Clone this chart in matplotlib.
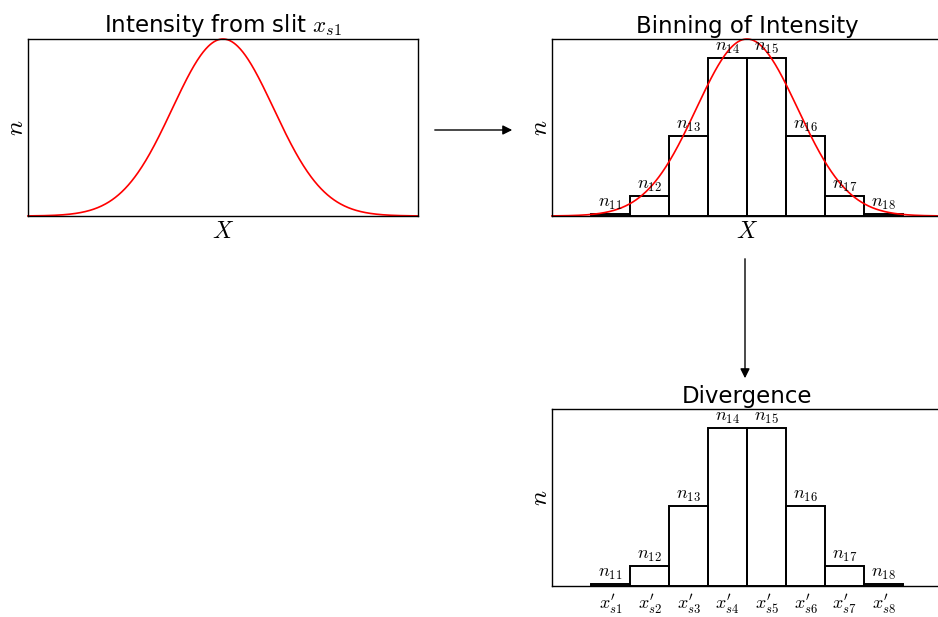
import numpy as np
import matplotlib
matplotlib.use("Agg")
import matplotlib.pyplot as plt

plt.rcParams['mathtext.fontset'] = 'cm'

# intensity profile from the slit (gaussian)
mu = 0.0
sigma = 1.3
x_range = (-5.0, 5.0)

# binned intensity
bin_edges = [-4, -3, -2, -1, 0, 1, 2, 3, 4]
bin_counts = [0.013, 0.113, 0.452, 0.893, 0.893, 0.452, 0.113, 0.013]
bin_labels = [r'$n_{11}$', r'$n_{12}$', r'$n_{13}$', r'$n_{14}$',
              r'$n_{15}$', r'$n_{16}$', r'$n_{17}$', r'$n_{18}$']
div_labels = [r"$x^{\prime}_{s1}$", r"$x^{\prime}_{s2}$", r"$x^{\prime}_{s3}$", r"$x^{\prime}_{s4}$",
              r"$x^{\prime}_{s5}$", r"$x^{\prime}_{s6}$", r"$x^{\prime}_{s7}$", r"$x^{\prime}_{s8}$"]

xs = np.linspace(x_range[0], x_range[1], 600)
curve = np.exp(-(xs - mu) ** 2 / (2 * sigma ** 2))

edges = np.array(bin_edges, dtype=float)
centers = (edges[:-1] + edges[1:]) / 2
widths = np.diff(edges)

W, H = 938, 617
fig = plt.figure(figsize=(W / 100, H / 100), dpi=100)


def box(l, t, w, h):
    return [l / W, (H - t - h) / H, w / W, h / H]


ax1 = fig.add_axes(box(28, 39, 390, 177))
ax2 = fig.add_axes(box(552, 39, 390, 177))
ax3 = fig.add_axes(box(552, 409, 390, 177))

for ax in (ax1, ax2, ax3):
    ax.set_xlim(*x_range)
    ax.set_ylim(0, 1.0)
    ax.set_xticks([])
    ax.set_yticks([])
    for s in ax.spines.values():
        s.set_linewidth(1.0)
        s.set_color('black')
    ax.set_ylabel(r'$n$', fontsize=18, labelpad=0)


def draw_bins(ax):
    ax.bar(centers, bin_counts, width=widths, fill=False, edgecolor='black', linewidth=1.4)
    for c, v, lab in zip(centers, bin_counts, bin_labels):
        ax.text(c, v + 0.01, lab, ha='center', va='bottom', fontsize=13)


# panel 1: slit intensity
ax1.plot(xs, curve, color='red', lw=1.2, clip_on=False)
ax1.set_title(r'Intensity from slit $x_{s1}$', fontsize=16.5, pad=4)
ax1.set_xlabel(r'$X$', fontsize=17, labelpad=2)

# panel 2: binning
draw_bins(ax2)
ax2.plot(xs, curve, color='red', lw=1.2, clip_on=False)
ax2.set_title('Binning of Intensity', fontsize=16.5, pad=4)
ax2.set_xlabel(r'$X$', fontsize=17, labelpad=2)

# panel 3: divergence
draw_bins(ax3)
ax3.set_title('Divergence', fontsize=16.5, pad=4)
ax3.set_xticks(centers)
ax3.set_xticklabels(div_labels, fontsize=13)
ax3.tick_params(axis='x', length=0, pad=5)

# arrows between panels
arrow = dict(arrowstyle='-|>', color='black', lw=1.0, mutation_scale=14)
fig.add_artist(matplotlib.patches.FancyArrowPatch(
    (432 / W, 1 - 130 / H), (515 / W, 1 - 130 / H),
    transform=fig.transFigure, **arrow))
fig.add_artist(matplotlib.patches.FancyArrowPatch(
    (745 / W, 1 - 256 / H), (745 / W, 1 - 381 / H),
    transform=fig.transFigure, **arrow))

fig.savefig('out.png', dpi=100)
